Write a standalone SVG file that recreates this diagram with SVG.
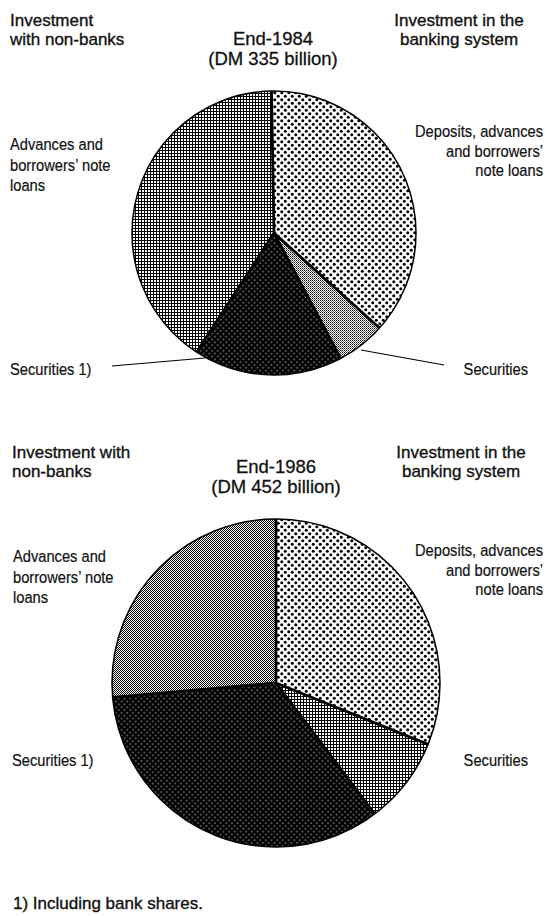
<svg xmlns="http://www.w3.org/2000/svg" width="547" height="916" viewBox="0 0 547 916">
<defs>
<style>
.h{font-family:"Liberation Sans",Arial,sans-serif;font-size:17px;fill:#111;stroke:#111;stroke-width:0.35}
.t{font-family:"Liberation Sans",Arial,sans-serif;font-size:18.5px;fill:#111;stroke:#111;stroke-width:0.3;text-anchor:middle}
.m{text-anchor:middle}
.l{font-family:"Liberation Sans",Arial,sans-serif;font-size:16.3px;fill:#111;stroke:#111;stroke-width:0.2}
.r{text-anchor:end}
.sep{fill:none;stroke:#000;stroke-width:2.8;stroke-linejoin:round}
.rim{fill:none;stroke:#000;stroke-width:1.5}
.ld{fill:none;stroke:#000;stroke-width:1.2}
</style>
<pattern id="pDots" width="7" height="7" patternUnits="userSpaceOnUse">
<rect width="7" height="7" fill="#fff"/>
<circle cx="1.75" cy="1.75" r="1.5" fill="#000"/>
<circle cx="5.25" cy="5.25" r="1.5" fill="#000"/>
</pattern>
<pattern id="pGrid" width="3" height="3" patternUnits="userSpaceOnUse">
<rect width="3" height="3" fill="#000"/>
<rect x="1" y="1" width="2" height="2" fill="#fff"/>
</pattern>
<pattern id="pCheck" width="2" height="2" patternUnits="userSpaceOnUse">
<rect width="2" height="2" fill="#fff"/>
<rect width="1" height="1" fill="#000"/>
<rect x="1" y="1" width="1" height="1" fill="#666"/>
</pattern>
<pattern id="pCheck2" width="2" height="2" patternUnits="userSpaceOnUse">
<rect width="2" height="2" fill="#fff"/>
<rect width="1" height="1" fill="#000"/>
<rect x="1" y="1" width="1" height="1" fill="#000"/>
</pattern>
<pattern id="pDark" width="4" height="4" patternUnits="userSpaceOnUse" patternTransform="rotate(45)">
<rect width="4" height="4" fill="#000"/>
<rect x="1.5" y="1.5" width="1.1" height="1.1" fill="#fff"/>
</pattern>
</defs>

<g id="pie-1984">
<g id="slice-1984-deposits"><path d="M274 233 L271.5 91 A142 142 0 0 1 379.5 328 Z" fill="url(#pDots)"/></g>
<g id="slice-1984-securities"><path d="M274 233 L379.5 328 A142 142 0 0 1 340.7 358.4 Z" fill="url(#pCheck)"/></g>
<g id="slice-1984-securities1"><path d="M274 233 L340.7 358.4 A142 142 0 0 1 196.7 352.1 Z" fill="url(#pDark)"/></g>
<g id="slice-1984-advances"><path d="M274 233 L196.7 352.1 A142 142 0 0 1 271.5 91 Z" fill="url(#pGrid)"/></g>
<path class="sep" d="M271.5 91 L274 233 L379.5 328 M274 233 L340.7 358.4 M274 233 L196.7 352.1"/>
<circle class="rim" cx="274" cy="233" r="142"/>
</g>

<g id="pie-1986">
<g id="slice-1986-deposits"><path d="M276 683 L276 519 A164 164 0 0 1 428.1 744.4 Z" fill="url(#pDots)"/></g>
<g id="slice-1986-securities"><path d="M276 683 L428.1 744.4 A164 164 0 0 1 374.7 814 Z" fill="url(#pGrid)"/></g>
<g id="slice-1986-securities1"><path d="M276 683 L374.7 814 A164 164 0 0 1 112.6 697.3 Z" fill="url(#pDark)"/></g>
<g id="slice-1986-advances"><path d="M276 683 L112.6 697.3 A164 164 0 0 1 276 519 Z" fill="url(#pCheck2)"/></g>
<path class="sep" d="M276 519 L276 683 L428.1 744.4 M276 683 L374.7 814 M276 683 L112.6 697.3"/>
<circle class="rim" cx="276" cy="683" r="164"/>
</g>

<g id="connectors">
<line class="ld" x1="112" y1="366" x2="205" y2="358"/>
<line class="ld" x1="361" y1="350" x2="444" y2="365"/>
</g>

<g id="titles-1984">
<text class="h" x="10" y="26">Investment</text>
<text class="h" x="10" y="45">with non-banks</text>
<text class="t" x="273" y="45">End-1984</text>
<text class="t" x="273" y="64.5">(DM 335 billion)</text>
<text class="h m" x="459" y="26">Investment in the</text>
<text class="h m" x="459" y="45">banking system</text>
</g>

<g id="labels-1984">
<text class="l" transform="matrix(0.9 0 0 1 10 150)">Advances and</text>
<text class="l" transform="matrix(0.9 0 0 1 10 171)">borrowers’ note</text>
<text class="l" transform="matrix(0.9 0 0 1 10 191)">loans</text>
<text class="l r" transform="matrix(0.9 0 0 1 543 137)">Deposits, advances</text>
<text class="l r" transform="matrix(0.9 0 0 1 543 157)">and borrowers’</text>
<text class="l r" transform="matrix(0.9 0 0 1 543 176)">note loans</text>
<text class="l" transform="matrix(0.9 0 0 1 10 375)">Securities 1)</text>
<text class="l r" transform="matrix(0.9 0 0 1 528 375)">Securities</text>
</g>

<g id="titles-1986">
<text class="h" x="12" y="458">Investment with</text>
<text class="h" x="12" y="477">non-banks</text>
<text class="t" x="276" y="473">End-1986</text>
<text class="t" x="276" y="492.5">(DM 452 billion)</text>
<text class="h m" x="461" y="458">Investment in the</text>
<text class="h m" x="461" y="477">banking system</text>
</g>

<g id="labels-1986">
<text class="l" transform="matrix(0.9 0 0 1 13 562)">Advances and</text>
<text class="l" transform="matrix(0.9 0 0 1 13 583)">borrowers’ note</text>
<text class="l" transform="matrix(0.9 0 0 1 13 603)">loans</text>
<text class="l r" transform="matrix(0.9 0 0 1 543 556)">Deposits, advances</text>
<text class="l r" transform="matrix(0.9 0 0 1 543 576)">and borrowers’</text>
<text class="l r" transform="matrix(0.9 0 0 1 543 595)">note loans</text>
<text class="l" transform="matrix(0.9 0 0 1 12 766)">Securities 1)</text>
<text class="l r" transform="matrix(0.9 0 0 1 528 766)">Securities</text>
</g>

<g id="footnote">
<text class="h" x="13" y="909">1) Including bank shares.</text>
</g>
</svg>
